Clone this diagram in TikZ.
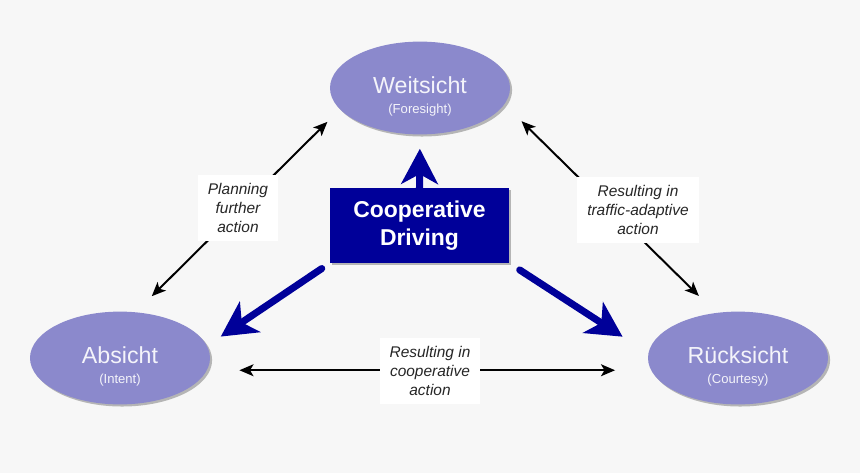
\documentclass[tikz,border=0pt]{standalone}
\usepackage{fontspec}
\setmainfont{Liberation Sans}
\usetikzlibrary{shapes}
\usetikzlibrary{shadows}
\usetikzlibrary{arrows.meta}
\definecolor{bgcol}{HTML}{F7F7F7}
\definecolor{ellfill}{HTML}{8B89CC}
\definecolor{elltext}{HTML}{F4F4FA}
\definecolor{navy}{HTML}{000099}
\tikzset{
    ellnode/.style = {ellipse, fill=ellfill, minimum width=128pt, minimum height=66pt, inner sep=0pt, align=center, text=elltext,
        drop shadow={shadow xshift=1.5pt, shadow yshift=-1.5pt, fill=black!40, opacity=0.7}},
    coopnode/.style = {rectangle, fill=navy, minimum width=127pt, minimum height=53pt, align=center, text=white,
        font=\bfseries\fontsize{16.3}{20}\selectfont,
        drop shadow={shadow xshift=1.5pt, shadow yshift=-1.5pt, fill=black!40, opacity=0.7}},
    labnode/.style = {rectangle, fill=white, align=center, inner xsep=7pt, minimum height=47pt,
        font=\itshape\fontsize{11}{13.5}\selectfont, text=black!85},
    edgek/.style = {{Stealth[length=10pt,width=8.5pt,inset=2.5pt]}-{Stealth[length=10pt,width=8.5pt,inset=2.5pt]}, line width=1.4pt, black},
    edgeb/.style = {-{Stealth[length=25pt,width=26pt,inset=7pt]}, line width=5pt, navy, line cap=round}
}
% main name, then the English name below it
\newcommand{\ellbody}[2]{\fontsize{16.5}{18}\selectfont\rule{0pt}{24pt}#1\\[2pt]\fontsize{9.3}{11}\selectfont #2}

\begin{document}
\begin{tikzpicture}[x=0.025cm,y=-0.025cm]
\fill[bgcol] (0,0) rectangle (860,473);

% three views
\node[ellnode] at (420, 88) (W) {\ellbody{Weitsicht}{(Foresight)}};
\node[ellnode] at (120,358) (A) {\ellbody{Absicht}{(Intent)}};
\node[ellnode] at (738,358) (R) {\ellbody{Rücksicht}{(Courtesy)}};
\node[coopnode] at (419.5,225.5) (C) {Cooperative\\Driving};

% relations
\draw[edgek, shorten <=16pt, shorten >=12.5pt] (A.71) -- (W.195);
\draw[edgek, shorten <=17pt, shorten >=17pt] (W.349) -- (R.116);
\draw[edgek, shorten <=23pt, shorten >=25.5pt] (A.352) -- (R.188);

\node[labnode] at (238,208) (P) {Planning\\further\\action};
\node[labnode] at (638,210) (T) {Resulting in\\traffic-adaptive\\action};
\node[labnode] at (430,371) (Q) {Resulting in\\cooperative\\action};

% cooperative driving
\draw[edgeb, line cap=butt, shorten >=10pt] (C.north) -- (W.south);
\draw[edgeb, shorten <=7pt, shorten >=11.7pt] (C.south west) -- (A.8);
\draw[edgeb, shorten <=9pt, shorten >=21.7pt] (C.south east) -- (R.177);

\end{tikzpicture}
\end{document}
